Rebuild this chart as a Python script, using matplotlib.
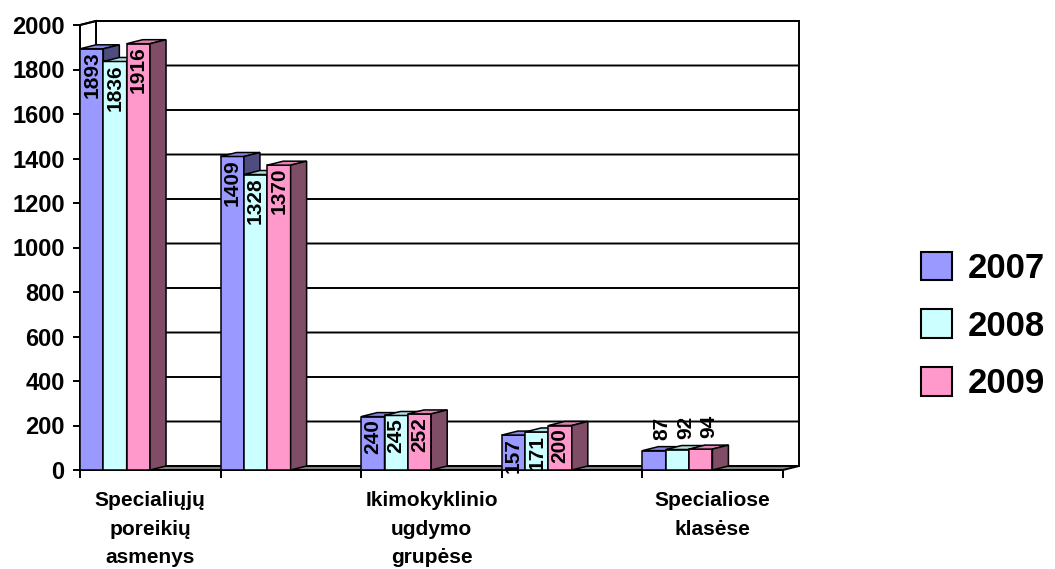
import matplotlib.pyplot as plt
from matplotlib.patches import Polygon, Patch

plt.rcParams['font.family'] = ['Liberation Sans', 'DejaVu Sans']

# every other category label is left out on the axis, as in the original sheet
categories = ['Specialiųjų\nporeikių\nasmenys', '', 'Ikimokyklinio\nugdymo\ngrupėse', '', 'Specialiose\nklasėse']
years = ['2007', '2008', '2009']
v2007 = [1893, 1409, 240, 157, 87]
v2008 = [1836, 1328, 245, 171, 92]
v2009 = [1916, 1370, 252, 200, 94]
series = [v2007, v2008, v2009]

front = ['#9999ff', '#ccffff', '#ff99cc']
top = ['#8585e0', '#b0e0e0', '#e085b2']
side = ['#4d4d80', '#668080', '#804d66']

W, H = 1055, 569
fig = plt.figure(figsize=(W / 100, H / 100), dpi=100)
ax = fig.add_axes([80 / W, 99 / H, 703 / W, 445 / H])
ymax = 2000
ncat = len(categories)
ax.set_xlim(0, ncat)
ax.set_ylim(0, ymax)

bw = 0.166                 # bar width in category units
ddx = 16 / 140.6           # depth of the fake 3d, x
ddy = 4 / 445 * ymax       # depth of the fake 3d, y
lw = 1.4

# walls and floor
ax.add_patch(Polygon([(ddx, ddy), (ncat + ddx, ddy), (ncat + ddx, ymax + ddy), (ddx, ymax + ddy)],
                     facecolor='white', edgecolor='black', lw=lw, clip_on=False, zorder=0.5))
ax.add_patch(Polygon([(0, 0), (ddx, ddy), (ddx, ymax + ddy), (0, ymax)],
                     facecolor='white', edgecolor='black', lw=lw, clip_on=False, zorder=0.6))
ax.add_patch(Polygon([(0, 0), (ncat, 0), (ncat + ddx, ddy), (ddx, ddy)],
                     facecolor='#808080', edgecolor='black', lw=lw, clip_on=False, zorder=1.5))

for v in range(200, ymax + 1, 200):
    ax.plot([0, ddx, ncat + ddx], [v, v + ddy, v + ddy], color='black', lw=lw,
            clip_on=False, zorder=1)

for j, vals in enumerate(series):
    z = 3 + j
    for i, v in enumerate(vals):
        x0 = i + j * bw
        ax.bar(x0, v, bw, align='edge', color=front[j], edgecolor='black', lw=1.1, zorder=z)
        ax.add_patch(Polygon([(x0, v), (x0 + bw, v), (x0 + bw + ddx, v + ddy), (x0 + ddx, v + ddy)],
                             facecolor=top[j], edgecolor='black', lw=1.1, clip_on=False, zorder=z))
        ax.add_patch(Polygon([(x0 + bw, 0), (x0 + bw + ddx, ddy), (x0 + bw + ddx, v + ddy), (x0 + bw, v)],
                             facecolor=side[j], edgecolor='black', lw=1.1, clip_on=False, zorder=z))
        if v > 130:
            ax.annotate(str(v), (x0 + bw / 2, v), xytext=(0, -2), textcoords='offset points',
                        rotation=90, ha='center', va='top', fontsize=15, fontweight='bold', zorder=10)
        else:
            ax.annotate(str(v), (x0 + bw / 2 + ddx / 2, v + ddy), xytext=(0, 5), textcoords='offset points',
                        rotation=90, ha='center', va='bottom', fontsize=15, fontweight='bold', zorder=10)

for s in ['top', 'right']:
    ax.spines[s].set_visible(False)
for s in ['left', 'bottom']:
    ax.spines[s].set_linewidth(lw)
    ax.spines[s].set_zorder(2)

ax.set_yticks(range(0, ymax + 1, 200))
ax.tick_params(axis='y', direction='out', length=5, width=lw, labelsize=17, pad=6)
for lbl in ax.get_yticklabels():
    lbl.set_fontweight('bold')

ax.set_xticks(range(ncat + 1))
ax.set_xticklabels([])
ax.set_xticks([i + 0.5 for i in range(ncat)], minor=True)
ax.set_xticklabels(categories, minor=True)
ax.tick_params(axis='x', which='major', direction='out', length=6, width=lw)
ax.tick_params(axis='x', which='minor', length=0, pad=15, labelsize=15)
for lbl in ax.get_xticklabels(minor=True):
    lbl.set_fontweight('bold')
    lbl.set_linespacing(1.65)
    lbl.set_verticalalignment('top')

handles = [Patch(facecolor=c, edgecolor='black', lw=1.5) for c in front]
fig.legend(handles, years, loc='center left', bbox_to_anchor=(921 / W, 1 - 326 / H),
           frameon=False, prop={'size': 25, 'weight': 'bold'}, borderpad=0, borderaxespad=0,
           handlelength=0.9, handleheight=0.9, handletextpad=0.45, labelspacing=0.7)

fig.savefig('out.png', dpi=100)
